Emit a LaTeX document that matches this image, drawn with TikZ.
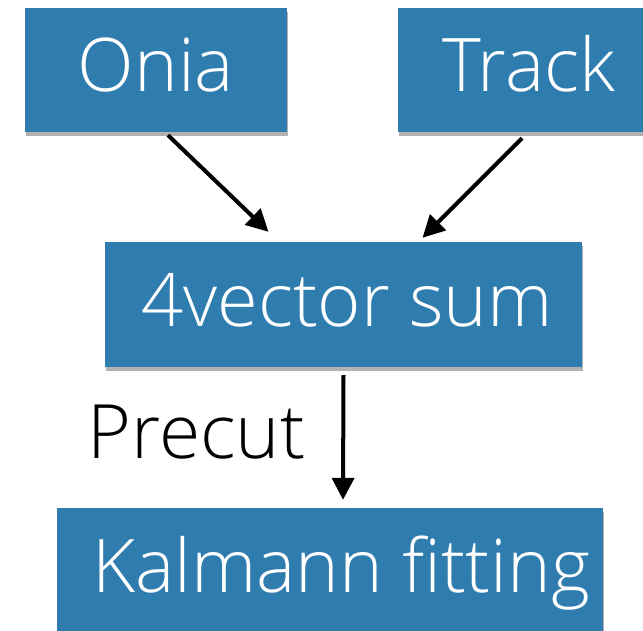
\documentclass[tikz,border=0pt]{standalone}
\usepackage{fontspec}
\setmainfont{Open Sans}[UprightFont=* Light]
\usetikzlibrary{arrows.meta,shadows}
\definecolor{boxblue}{RGB}{47,124,175}
\begin{document}
\begin{tikzpicture}[x=1pt,y=-1pt,
  blk/.style={fill=boxblue,text=white,inner sep=0pt,font=\fontsize{74}{78}\selectfont,
    text height=52pt,text depth=8pt,
    drop shadow={shadow xshift=1pt,shadow yshift=-4pt,opacity=0.3,fill=black}},
  conn/.style={line width=4pt,-{Triangle[length=22pt,width=22pt]}}]
\useasboundingbox (0,0) rectangle (643,631);
\begin{scope}
\clip (0,0) rectangle (643,631);
\node[blk,minimum width=262pt,minimum height=124pt] (onia) at (156,70) {Onia};
\node[blk,minimum width=262pt,minimum height=124pt] (track) at (529,70) {Track};
\node[blk,minimum width=477pt,minimum height=125pt] (sum) at (343.5,304.5) {\hspace*{7pt}4vector sum};
\node[blk,minimum width=546pt,minimum height=124pt] (kal) at (330,570) {\hspace*{22pt}Kalmann fitting};
\end{scope}
\node[font=\fontsize{75}{78}\selectfont,inner sep=0pt,anchor=base] (pre) at (196.5,458) {Precut};
\coordinate (a1s) at ([shift={(12,3)}]onia.south);
\coordinate (a1e) at ([shift={(-75,-10)}]sum.north);
\coordinate (a2s) at ([shift={(-7,6)}]track.south);
\coordinate (a2e) at ([shift={(79,-4)}]sum.north);
\coordinate (a3s) at ([shift={(0,8)}]sum.south);
\coordinate (a3e) at ([shift={(13,-8)}]kal.north);
\draw[conn] (a1s) -- (a1e);
\draw[conn] (a2s) -- (a2e);
\draw[conn] (a3s) -- (a3e);
\end{tikzpicture}
\end{document}
